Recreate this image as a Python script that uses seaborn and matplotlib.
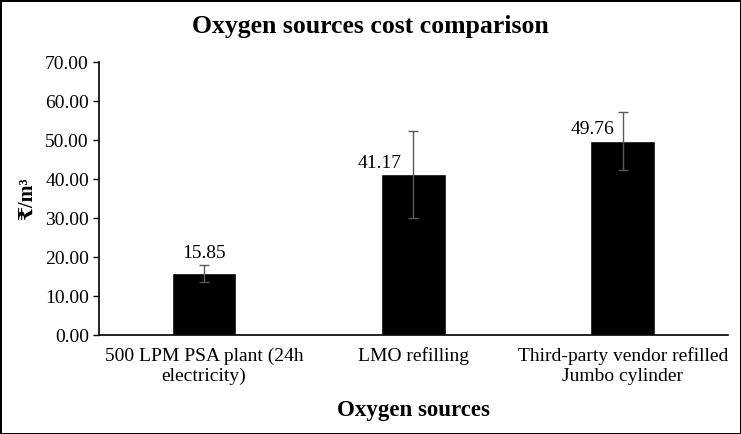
import pandas as pd
import matplotlib.pyplot as plt
import seaborn as sns

sources = ["500 LPM PSA plant (24h\nelectricity)", "LMO refilling",
           "Third-party vendor refilled\nJumbo cylinder"]
cost = [15.85, 41.17, 49.76]
cost_err = [2.2, 11.2, 7.5]
label_dx = [0, -24.5, -22]   # label nudges (points) as in the original

df = pd.DataFrame({"Source": sources, "Cost": cost})

sns.set_style("white")
plt.rcParams["font.family"] = ["Liberation Serif", "DejaVu Serif"]
plt.rcParams["text.color"] = "black"
plt.rcParams["axes.labelcolor"] = "black"
plt.rcParams["xtick.color"] = "black"
plt.rcParams["ytick.color"] = "black"

fig = plt.figure(figsize=(7.41, 4.34), dpi=100)
fig.patch.set_edgecolor("black")
fig.patch.set_linewidth(2)
ax = fig.add_axes([0.134, 0.228, 0.848, 0.629])

sns.barplot(data=df, x="Source", y="Cost", color="black", saturation=1,
            width=0.31, errorbar=None, ax=ax)
ax.errorbar(range(len(cost)), cost, yerr=cost_err, fmt="none",
            ecolor="#595959", elinewidth=1, capsize=3.5, capthick=1)

for i, v in enumerate(cost):
    top = v + cost_err[i] if label_dx[i] == 0 else v
    ax.annotate(f"{v:.2f}", (i, top), xytext=(label_dx[i], 2),
                textcoords="offset points", ha="center", va="bottom",
                fontsize=14)

ax.set_ylim(0, 70)
ax.set_yticks(range(0, 71, 10))
ax.set_yticklabels([f"{t:.2f}" for t in range(0, 71, 10)], fontsize=14)
ax.tick_params(axis="y", length=4, width=1, color="black", direction="out", left=True)
ax.tick_params(axis="x", length=0, labelsize=14, pad=9)
ax.set_xlim(-0.5, 2.5)

for s in ["top", "right"]:
    ax.spines[s].set_visible(False)
for s in ["left", "bottom"]:
    ax.spines[s].set_color("black")
    ax.spines[s].set_linewidth(1.2)

ax.set_xlabel("Oxygen sources", fontsize=16.5, fontweight="bold", labelpad=11)
ax.set_ylabel("₹/m³", fontsize=14.5, fontweight="bold", labelpad=6)
fig.suptitle("Oxygen sources cost comparison", fontsize=18.5, fontweight="bold", y=0.965)

fig.savefig("out.png", dpi=100, edgecolor=fig.get_edgecolor())
